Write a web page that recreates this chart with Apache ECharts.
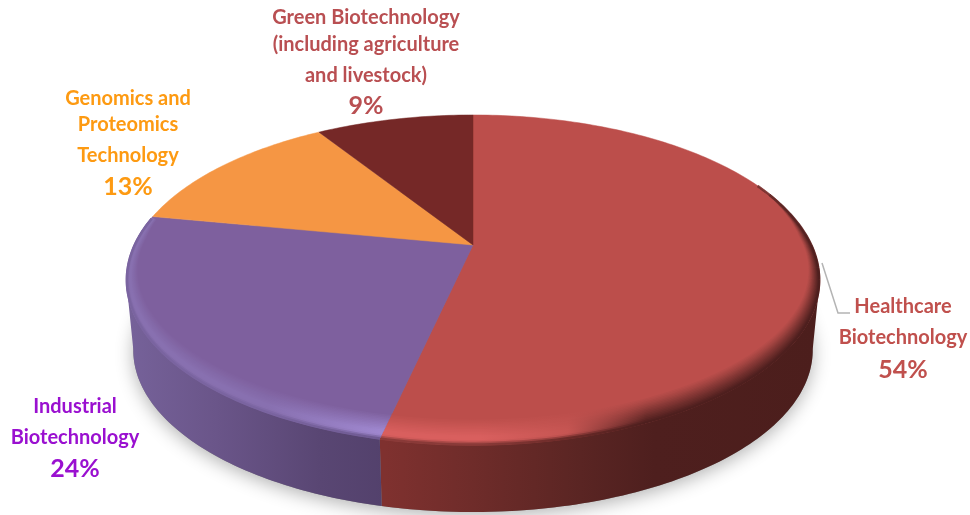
<!DOCTYPE html>
<html><head><meta charset="utf-8">
<style>html,body{margin:0;padding:0;background:#fff}#c{width:970px;height:515px}</style>
<script src="https://cdn.jsdelivr.net/npm/echarts@6/dist/echarts.min.js"></script>
</head><body><div id="c"></div>
<script>
// Data
const categories = ['Healthcare Biotechnology','Industrial Biotechnology','Genomics and Proteomics Technology','Green Biotechnology (including agriculture and livestock)'];
const sliceShares = [53.5, 24.5, 13, 9];          // angular share measured on the drawn pie
const printedPercents = ['54%', '24%', '13%', '9%'];
const labelLines = [
  ['Healthcare','Biotechnology'],
  ['Industrial','Biotechnology'],
  ['Genomics and','Proteomics','Technology'],
  ['Green Biotechnology','(including agriculture','and livestock)']
];
const topColors = ['#bc4e4b','#7e609e','#f59644','#752827'];
const labelColors = ['#c0504d','#9a10d0','#fd9a12','#b94f52'];

// Label placement: centre x, then the y of each text line
const labelPlace = [
  {x:903, ys:[307,338,370]},
  {x:75,  ys:[407,438,469]},
  {x:128, ys:[99,125,156,187]},
  {x:366, ys:[18,45,76,106]}
];

// Perspective disc
const K = 0.212;
const TOP = {cx:473, cy:245, a:339, b:157.6};
const BOT = {cx:473, cy:315.7, a:332, b:154.7};
const SIL_RIGHT = 102, SIL_LEFT = 258;   // angles of the disc's silhouette
function proj(L, deg, r){
  const t = deg*Math.PI/180, u = r*Math.sin(t), v = r*Math.cos(t), w = 1+K*v;
  return [L.cx + L.a*u/w, L.cy - L.b*v/w];
}
function arc(L, d0, d1, r, rf){
  const n = Math.max(2, Math.ceil(Math.abs(d1-d0)));
  const pts = [];
  for(let i=0;i<=n;i++){
    const d = d0+(d1-d0)*i/n;
    pts.push(proj(L, d, rf ? rf(d) : (r==null?1:r)));
  }
  return pts;
}
const total = sliceShares.reduce((a,b)=>a+b,0);
const spans = [];
sliceShares.reduce((acc,v)=>{ spans.push([acc/total*360,(acc+v)/total*360]); return acc+v; },0);

const G = (x0,x1,stops)=>new echarts.graphic.LinearGradient(x0,0,x1,0,stops.map(s=>({offset:s[0],color:s[1]})),true);
const wallFill = [
  G(385,820,[[0,'#7f312f'],[0.2,'#6f2c2a'],[0.45,'#5a2523'],[0.62,'#4e1f1e'],[1,'#4c1e1c']]),
  G(126,385,[[0,'#76629a'],[0.35,'#6a5589'],[0.75,'#594673'],[1,'#53416c']]),
  '#c87a36','#5a1f1e'
];

function mix(a,b,t){
  const p=c=>[1,3,5].map(i=>parseInt(c.substr(i,2),16));
  const A=p(a),B=p(b);
  return 'rgb('+A.map((x,i)=>Math.round(x+(B[i]-x)*t)).join(',')+')';
}
// Bevel profile: tone at the rim edge, highlight and base as the band moves inward
function bevelStroke(i, t){
  const prof = (edge,hi,base)=> t<0.14 ? mix(edge,hi,t/0.14) : t<0.3 ? mix(hi,hi,0) : mix(hi,base,(t-0.3)/0.7);
  if(i===0){
    const left = prof('#8a3a38','#d95f5e','#bc4e4b');
    const midc = prof('#6b2a28','#c65552','#bc4e4b');
    const dark = t<0.75 ? mix('#4e1f1e','#a54542',t/0.75) : mix('#a54542','#bc4e4b',(t-0.75)/0.25);
    return G(385,820,[[0,left],[0.22,left],[0.42,midc],[0.6,dark],[1,dark]]);
  }
  const left = prof('#7a64a0','#8870b0','#7e609e');
  const right = prof('#6f5a92','#a088d0','#7e609e');
  return G(126,385,[[0,left],[0.55,left],[1,right]]);
}
function rFor(t){
  return function(d){
    const v = Math.cos(d*Math.PI/180);
    const g = Math.max(0,Math.min(1,(0.35-v)/0.3));
    return 1 - 0.002 - t*(0.022*g + 0.08*Math.pow(Math.max(0,-v),1.5));
  };
}

const data = spans.map((s,i)=>({value:s,name:categories[i]}));

const option = {
  animation:false,
  backgroundColor:'#fff',
  series:[
    { // ground shadow
      type:'custom', coordinateSystem:'none', silent:true, z:1, data:[[0,360]],
      renderItem(){ return {type:'polygon',shape:{points:arc(BOT,0,360)},
        style:{fill:'#888',shadowBlur:18,shadowColor:'rgba(0,0,0,0.30)',shadowOffsetY:4}}; }
    },
    { // side wall
      type:'custom', coordinateSystem:'none', silent:true, z:2, data,
      renderItem(p,api){
        const a=Math.max(api.value(0),SIL_RIGHT), b=Math.min(api.value(1),SIL_LEFT);
        if(b<=a) return {type:'group',children:[]};
        return {type:'polygon',shape:{points:arc(TOP,a,b).concat(arc(BOT,b,a))},style:{fill:wallFill[p.dataIndex]}};
      }
    },
    { // top face
      type:'custom', coordinateSystem:'none', silent:true, z:3, data,
      renderItem(p,api){
        const a=api.value(0), b=api.value(1);
        return {type:'polygon',shape:{points:[proj(TOP,a,0)].concat(arc(TOP,a,b))},
          style:{fill:topColors[p.dataIndex],stroke:topColors[p.dataIndex],lineWidth:0.5}};
      }
    },
    { // rim bevel
      type:'custom', coordinateSystem:'none', silent:true, z:4, data,
      renderItem(p,api){
        const i=p.dataIndex;
        if(i>1) return {type:'group',children:[]};
        const a=Math.max(api.value(0),SIL_RIGHT), b=Math.min(api.value(1),280);
        const kids=[]; const N=16;
        for(let j=N;j>=0;j--){
          const t=j/N, rf=rFor(t), stroke=bevelStroke(i,t);
          kids.push({type:'polyline',shape:{points:arc(TOP,a,b,null,rf)},
            style:{fill:null,stroke,lineWidth:2.4,lineCap:'butt',lineJoin:'round'}});
          if(i===0){ // the dark edge fades out going round the back of the disc
            for(let d=SIL_RIGHT;d>66;d-=4){
              kids.push({type:'polyline',shape:{points:arc(TOP,d-4,d,null,rf)},
                style:{fill:null,stroke,lineWidth:2.4,opacity:(d-66)/(SIL_RIGHT-66)}});
            }
          }
        }
        return {type:'group',children:kids};
      }
    }
  ],
  graphic:{elements:[]}
};

const els=[];
labelPlace.forEach((pl,i)=>{
  labelLines[i].concat(printedPercents[i]).forEach((txt,k,arr)=>{
    const isPct = k===arr.length-1;
    els.push({type:'text',z:20,silent:true,x:pl.x,y:pl.ys[k],
      style:{text:txt,fill:labelColors[i],align:'center',verticalAlign:'middle',
        font:(isPct?'bold 25px':'bold 20px')+' Lato, "Open Sans", sans-serif'}});
  });
});
els.push({type:'polyline',z:19,silent:true,shape:{points:[[822,263],[838,313],[850,313]]},
  style:{fill:null,stroke:'#b4b4b4',lineWidth:1.5}});
option.graphic.elements=els;

echarts.init(document.getElementById('c'),null,{renderer:'canvas'}).setOption(option);
</script></body></html>
